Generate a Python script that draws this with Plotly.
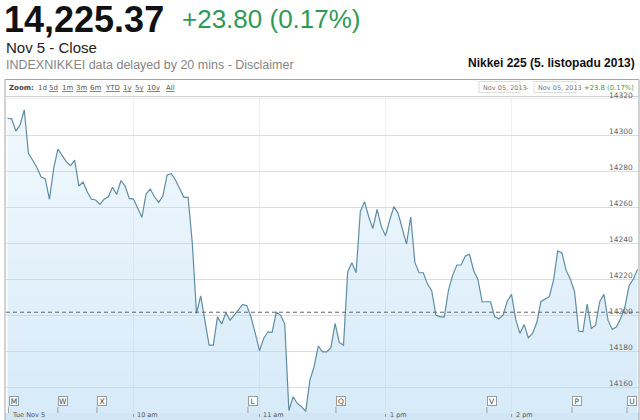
import plotly.graph_objects as go

# ---------------- data ----------------
# trading minutes since 9:00 (lunch break removed: 11:30 -> 12:30 collapsed)
minutes = [0, 2, 4, 6, 8, 10, 12, 14, 16, 18, 20, 22, 24, 26, 28, 30, 32, 34, 36, 38,
           40, 42, 44, 46, 48, 50, 52, 54, 56, 58, 60, 64, 66, 68, 70, 72, 74, 76, 78, 80,
           82, 84, 86, 88, 90, 92, 96, 98, 100, 102, 104, 106, 108, 110, 112, 114, 116, 118, 120, 122,
           124, 126, 128, 130, 132, 134, 136, 138, 140, 142, 144, 146, 148, 150, 152, 154, 156, 158, 160, 162,
           164, 166, 168, 170, 172, 174, 176, 178, 180, 182, 184, 186, 188, 190, 192, 194, 196, 198, 200, 202,
           204, 206, 208, 210, 212, 214, 216, 218, 220, 222, 224, 226, 228, 230, 232, 234, 236, 238, 240, 242,
           244, 246, 248, 250, 252, 254, 256, 258, 260, 262, 264, 266, 268, 270, 272, 274, 276, 278, 280, 282,
           284, 286, 288, 290, 292, 294, 296, 298, 300]
prices = [14309.3, 14309.0, 14302.2, 14305.6, 14313.9, 14289.8, 14286.0, 14282.0, 14276.8, 14275.6,
          14264.3, 14281.5, 14292.2, 14288.9, 14285.2, 14283.0, 14286.0, 14271.7, 14273.9, 14268.3,
          14264.3, 14263.9, 14261.5, 14264.4, 14265.7, 14271.0, 14267.0, 14274.6, 14271.7, 14264.8,
          14264.4, 14254.3, 14267.2, 14270.0, 14265.7, 14262.6, 14266.1, 14277.8, 14278.5, 14275.0,
          14270.0, 14265.4, 14265.4, 14240.0, 14200.9, 14210.6, 14183.3, 14183.3, 14199.0, 14195.0,
          14201.3, 14197.2, 14200.0, 14203.1, 14205.9, 14205.2, 14198.7, 14189.8, 14180.2, 14187.0,
          14190.7, 14190.4, 14201.5, 14200.0, 14195.0, 14147.0, 14154.6, 14150.9, 14149.1, 14146.5,
          14163.9, 14171.3, 14182.8, 14179.6, 14179.6, 14181.9, 14195.4, 14184.8, 14183.3, 14224.1,
          14229.1, 14223.5, 14257.4, 14263.0, 14254.6, 14248.1, 14258.7, 14249.1, 14244.1, 14252.8,
          14260.2, 14256.5, 14248.1, 14239.4, 14254.6, 14229.1, 14223.5, 14223.5, 14217.2, 14213.5,
          14200.0, 14199.0, 14199.0, 14213.9, 14222.2, 14227.8, 14227.8, 14232.8, 14233.7, 14224.6,
          14219.8, 14207.4, 14207.4, 14207.4, 14199.0, 14197.9, 14200.0, 14207.8, 14211.5, 14197.6,
          14189.8, 14194.8, 14187.4, 14189.8, 14195.7, 14207.4, 14208.9, 14210.2, 14219.4, 14235.6,
          14234.5, 14224.8, 14220.0, 14213.0, 14191.0, 14190.8, 14206.1, 14192.6, 14194.4, 14207.4,
          14211.5, 14196.9, 14192.0, 14193.5, 14198.2, 14204.6, 14216.3, 14220.0, 14225.37]

prev_close = 14201.57
y_ticks = [14160, 14180, 14200, 14220, 14240, 14260, 14280, 14300, 14320]
x_tick_minutes = [0, 60, 120, 180, 240]
x_tick_labels = ["Tue Nov 5", "10 am", "11 am", "1 pm", "2 pm"]
flag_letters = ["M", "W", "X", "L", "Q", "V", "P", "U"]
flag_minutes = [0.5, 24, 42.6, 114.5, 156.4, 228.3, 268.8, 295]

last_price = "14,225.37"
change_text = "+23.80 (0.17%)"
zoom_labels = ["1d", "5d", "1m", "3m", "6m", "YTD", "1y", "5y", "10y", "All"]

# ---------------- layout helpers (pixel -> paper) ----------------
L, T, W, H = 6, 99, 633, 314
def px(x):
    return (x - L) / W
def py(y):
    return (T + H - y) / H

FONT = "Liberation Sans, Arial, sans-serif"
SMALL = "DejaVu Sans, Verdana, sans-serif"

fig = go.Figure()
fig.add_trace(go.Scatter(
    x=minutes, y=prices, mode="lines",
    line=dict(color="#5f8da4", width=1.2),
    fill="tozeroy",
    fillgradient=dict(type="vertical",
                      colorscale=[[0, "rgba(170,212,242,0.48)"], [1, "rgba(180,218,244,0.18)"]],
                      start=14145, stop=14320),
    hoverinfo="skip",
))

shapes = []
# bottom axis band
shapes.append(dict(type="rect", xref="paper", yref="paper", x0=px(5), x1=px(639),
                   y0=py(430), y1=0, fillcolor="#d3e6f5", line=dict(width=0), layer="below"))
# previous close dashed line
shapes.append(dict(type="line", xref="paper", yref="y", x0=0, x1=1, y0=prev_close, y1=prev_close,
                   line=dict(color="#666666", width=1, dash="4px,3px")))
# frame
shapes.append(dict(type="rect", xref="paper", yref="paper", x0=px(5), x1=px(639),
                   y0=py(440), y1=py(79.5), line=dict(color="#a5a5a5", width=1)))
# toolbar separators
shapes.append(dict(type="line", xref="paper", yref="paper", x0=px(5), x1=px(639),
                   y0=py(96.5), y1=py(96.5), line=dict(color="#cfcfcf", width=1)))
shapes.append(dict(type="line", xref="paper", yref="paper", x0=px(5), x1=px(639),
                   y0=py(98.5), y1=py(98.5), line=dict(color="#ececec", width=1)))
# date boxes
for x0, x1 in [(479, 520), (534, 576)]:
    shapes.append(dict(type="rect", xref="paper", yref="paper", x0=px(x0), x1=px(x1),
                       y0=py(92.5), y1=py(81.5), line=dict(color="#dddddd", width=1)))
# flag stems
for m in flag_minutes:
    shapes.append(dict(type="line", xref="x", yref="paper", x0=m, x1=m,
                       y0=0, y1=py(407), line=dict(color="#a0a0a0", width=1)))

ann = []
def text(x, y, s, size, color="#222", family=FONT, xanchor="left", yanchor="middle", **kw):
    ann.append(dict(xref="paper", yref="paper", x=px(x), y=py(y), text=s, showarrow=False,
                    xanchor=xanchor, yanchor=yanchor,
                    font=dict(size=size, color=color, family=family), **kw))

text(2, 19, "<b>" + last_price + "</b>", 36, "#111111")
text(180, 19, change_text, 26, "#2f9a56")
text(4, 48, "Nov 5 - Close", 15, "#222222")
text(4, 64.5, "INDEXNIKKEI data delayed by 20 mins - Disclaimer", 12.5, "#858585")
text(637, 63, "<b>Nikkei 225 (5. listopadu 2013)</b>", 12, "#111111", xanchor="right")

# toolbar
text(7, 88, "<b>Zoom:</b>", 7, "#444444", family=SMALL)
zoom_x = [36, 47, 60, 74, 88, 103, 121, 133, 145, 164]
for lab, zx in zip(zoom_labels, zoom_x):
    s = lab if lab == "1d" else "<u>" + lab + "</u>"
    text(zx, 88, s, 7, "#555555", family=SMALL)
text(481, 87.5, "Nov 05, 2013", 6.5, "#777777", family=SMALL)
text(524, 87.5, "-", 6.5, "#777777", family=SMALL)
text(536, 87.5, "Nov 05, 2013", 6.5, "#777777", family=SMALL)
text(636, 87.5, "+23.8 (0.17%)", 6.8, "#3d9a55", family=SMALL, xanchor="right")

# y labels (inside, right, slightly above grid lines)
for v in y_ticks:
    ann.append(dict(xref="paper", yref="y", x=1, y=v, xshift=-4, yshift=4, text=str(v),
                    showarrow=False, xanchor="right", yanchor="middle",
                    font=dict(size=7.5, color="#666666", family=SMALL)))

# x labels in the bottom band
for m, lab in zip(x_tick_minutes, x_tick_labels):
    ann.append(dict(xref="x", yref="paper", x=m, y=py(420), xshift=(3 if m > 0 else 4),
                    text=lab, showarrow=False, xanchor="left", yanchor="bottom", borderpad=0,
                    font=dict(size=6.5, color="#555555", family=SMALL)))

# flags
for m, lab in zip(flag_minutes, flag_letters):
    ann.append(dict(xref="x", yref="paper", x=m, y=py(401), text=lab, showarrow=False,
                    xanchor="left", yanchor="middle", width=8, height=8, borderpad=0,
                    bordercolor="#9a9a9a", borderwidth=1, bgcolor="white",
                    font=dict(size=7.5, color="#444444", family=SMALL)))

fig.update_layout(
    width=640, height=420,
    margin=dict(l=L, r=640 - L - W, t=T, b=420 - T - H, autoexpand=False),
    paper_bgcolor="white", plot_bgcolor="white",
    showlegend=False,
    shapes=shapes, annotations=ann,
    xaxis=dict(range=[-0.7, 300.7], tickvals=x_tick_minutes[1:], showticklabels=False,
               showgrid=True, gridcolor="#efefef", zeroline=False,
               ticks="outside", ticklen=3, tickcolor="#9a9a9a", showline=False, fixedrange=True),
    yaxis=dict(range=[14145.6, 14320], tickvals=y_ticks, showticklabels=False,
               showgrid=True, gridcolor="#dcdcdc", zeroline=False, showline=False, fixedrange=True),
)

fig.write_html("out.html", config={"displayModeBar": False},
               post_script="document.body.style.margin='0';document.body.style.overflow='hidden';")
